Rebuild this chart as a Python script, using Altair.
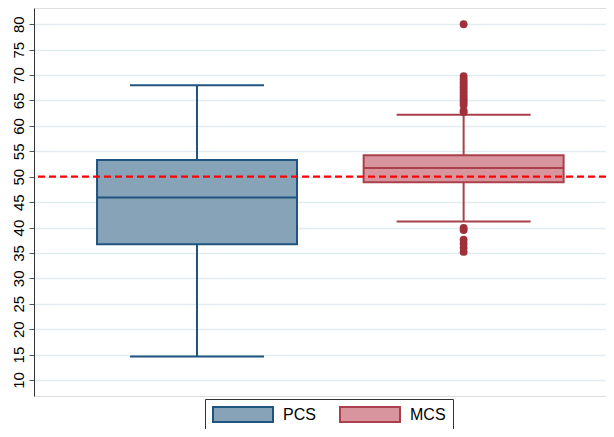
import altair as alt
import pandas as pd

groups = ["PCS", "MCS"]
positions = [1, 2]
lower_whisker = [14.6, 41.2]
q1 = [36.7, 48.9]
median = [45.9, 51.7]
q3 = [53.3, 54.2]
upper_whisker = [68.0, 62.2]

mcs_outliers = [80.0, 69.8, 69.2, 68.6, 68.1, 67.6, 67.1, 66.6, 66.1, 65.6, 65.1, 64.6, 64.1,
                63.0, 62.7, 39.9, 39.5, 37.6, 36.8, 36.0, 35.2]

fills = ["#87a3b7", "#d9959d"]
strokes = ["#1f5480", "#a9404b"]
outlier_color = "#a0303b"

ref_value = 50

W, H = 572, 388
xdom = [0.3886, 2.534]
ydom = [6.85, 83.2]

box = pd.DataFrame({
    "group": groups, "pos": positions, "lo": lower_whisker, "q1": q1,
    "med": median, "q3": q3, "hi": upper_whisker,
})
out = pd.DataFrame({"group": "MCS", "pos": 2, "v": mcs_outliers})
ref = pd.DataFrame({"v": [ref_value]})

xs = alt.Scale(domain=xdom, nice=False, zero=False)
ys = alt.Scale(domain=ydom, nice=False, zero=False)
color_fill = alt.Scale(domain=groups, range=fills)
color_stroke = alt.Scale(domain=groups, range=strokes)

base = alt.Chart(box)

yaxis = alt.Axis(values=list(range(10, 85, 5)), labelAngle=270, labelAlign="center",
                 labelBaseline="bottom", labelFontSize=15, labelColor="#000000",
                 labelFont="Liberation Sans", labelPadding=3, tickSize=5,
                 labelOverlap=False, labelBound=False, labelFlush=False,
                 tickColor="#555555", domainColor="#333333", domainWidth=1,
                 gridColor="#e3edf0", gridWidth=1.3, title=None)

legend = alt.Legend(title=None, orient="none", legendX=171, legendY=391,
                    direction="horizontal",
                    symbolType="M-1,-1H7V1H-1Z", symbolSize=225,
                    symbolStrokeWidth=2, symbolOpacity=1,
                    labelOffset=54, labelFontSize=16, labelColor="#000000",
                    labelFont="Liberation Sans", columnPadding=20,
                    strokeColor="#333333", padding=7)

stroke_enc = alt.Stroke("group:N", scale=color_stroke, sort=groups, legend=legend)


def Y(field):
    return alt.Y(field, scale=ys, axis=yaxis)


X_AX = dict(scale=xs, axis=None)

grid = alt.Chart(ref).mark_rule(opacity=0).encode(y=Y("v:Q"))

whisk_lo = base.mark_rule(strokeWidth=2).encode(
    x=alt.X("pos:Q", **X_AX), y=Y("lo:Q"), y2="q1:Q", stroke=stroke_enc,
)
whisk_hi = base.mark_rule(strokeWidth=2).encode(
    x=alt.X("pos:Q", **X_AX), y=Y("q3:Q"), y2="hi:Q", stroke=stroke_enc,
)
caps = []
for field in ["lo", "hi"]:
    caps.append(
        base.transform_calculate(xa="datum.pos - 0.2513", xb="datum.pos + 0.2513").mark_rule(strokeWidth=2).encode(
            x=alt.X("xa:Q", **X_AX), x2="xb:Q", y=Y(f"{field}:Q"), stroke=stroke_enc,
        )
    )

boxes = base.transform_calculate(xa="datum.pos - 0.375", xb="datum.pos + 0.375").mark_rect(strokeWidth=2).encode(
    x=alt.X("xa:Q", **X_AX), x2="xb:Q", y=Y("q1:Q"), y2="q3:Q",
    fill=alt.Fill("group:N", scale=color_fill, sort=groups, legend=legend),
    stroke=stroke_enc,
)
meds = base.transform_calculate(xa="datum.pos - 0.375", xb="datum.pos + 0.375").mark_rule(strokeWidth=2).encode(
    x=alt.X("xa:Q", **X_AX), x2="xb:Q", y=Y("med:Q"), stroke=stroke_enc,
)

pts = alt.Chart(out).mark_circle(size=62, opacity=1, color=outlier_color).encode(
    x=alt.X("pos:Q", **X_AX), y=Y("v:Q"),
)

refline = alt.Chart(ref).mark_rule(color="#ff0000", strokeWidth=2.2, strokeDash=[7, 4]).encode(
    y=Y("v:Q"),
)

chart = alt.layer(grid, whisk_lo, whisk_hi, *caps, boxes, meds, pts, refline).properties(
    width=W, height=H, autosize="none",
    padding={"left": 26, "top": 0, "right": 0, "bottom": 33},
).configure_axis(labelOverlap=False).configure_view(stroke=None).configure(background="#ffffff")

chart.save("out.html", embed_options={"renderer": "svg", "actions": False})
